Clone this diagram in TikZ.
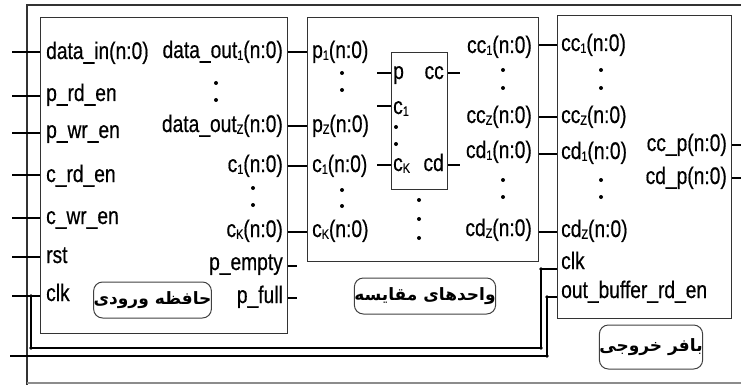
\documentclass[tikz,border=0pt]{standalone}
\usepackage{fontspec}
\setmainfont{Liberation Sans}
\newfontfamily\labfam{Liberation Sans}[FakeStretch=0.8,FakeBold=0.5]
\newfontfamily\arabicfont[Script=Arabic]{DejaVu Sans}
\TeXXeTstate=1
\newcommand\sbx[1]{\raisebox{-1.8pt}{\fontsize{13.5}{14}\selectfont #1}}
\newcommand\labfont{\labfam\fontsize{24}{26}\selectfont}
\tikzset{
  box/.style={draw=black!80, line width=1.3pt, anchor=north west, inner sep=0pt},
  lbl/.style={font=\labfont, inner sep=0pt, text height=17pt, text depth=5pt},
  lw/.style={lbl, anchor=west},
  le/.style={lbl, anchor=east},
  wire/.style={line width=1.2pt, black},
  jdot/.style={circle, fill=black, inner sep=0pt, minimum size=3.6pt},
  vd/.style={circle, fill=black, inner sep=0pt, minimum size=4pt},
  tag/.style={draw=black!75, line width=1pt, rounded corners=9pt, inner sep=0pt,
    font=\arabicfont\bfseries\fontsize{17}{19}\selectfont}
}
\begin{document}
\begin{tikzpicture}[x=1pt,y=-1pt]
\useasboundingbox (0,0) rectangle (741,385);
% frame
\draw[line width=1.5pt, black!80] (27,385) -- (27,5) -- (741,5);
\draw[line width=1.2pt, black!45] (27,383) -- (741,383);
% boxes
\node[box, minimum width=247pt, minimum height=316pt] (inbuf) at (40,17) {};
\node[box, minimum width=231pt, minimum height=244pt] (cmp) at (307,17) {};
\node[box, minimum width=56pt, minimum height=137pt] (core) at (391,52) {};
\node[box, minimum width=174pt, minimum height=303pt] (obuf) at (557,15) {};
% input wires
\foreach \n/\y in {a/52,b/96,c/133,d/175,e/218,f/257,g/296}{
  \coordinate (in\n) at (12,\y);
  \draw[wire] (in\n) -- (inbuf.west |- in\n);
}
% clock bus
\coordinate (ck0) at (31,296);
\coordinate (ck1) at (31,348);
\coordinate (ck2) at (541,348);
\coordinate (ck3) at (541,269);
\draw[wire] (ck0) -- (ck1) -- (ck2) -- (ck3) -- (obuf.west |- ck3);
\foreach \c in {ck0,ck1,ck2,ck3} \node[jdot] (j\c) at (\c) {};
% read enable bus
\coordinate (rd0) at (10,356);
\coordinate (rd1) at (547,356);
\coordinate (rd2) at (547,297);
\draw[wire] (rd0) -- (rd1) -- (rd2) -- (obuf.west |- rd2);
\foreach \c in {rd1,rd2} \node[jdot] (j\c) at (\c) {};
% inbuf -> cmp
\foreach \n/\y in {a/52,b/126,c/166,d/232}{
  \coordinate (row\n) at (0,\y);
  \draw[wire] (inbuf.east |- row\n) -- (cmp.west |- row\n);
}
\coordinate (rowe) at (0,266);
\coordinate (rowf) at (0,298);
\draw[wire] (inbuf.east |- rowe) -- ++(9,0);
\draw[wire] (inbuf.east |- rowf) -- ++(9,0);
% core wires
\foreach \n/\y in {a/73,b/106,c/165}{
  \coordinate (ci\n) at (377,\y);
  \draw[wire] (ci\n) -- (core.west |- ci\n);
}
\foreach \n/\y in {a/73,c/165}{
  \coordinate (co\n) at (460,\y);
  \draw[wire] (core.east |- co\n) -- (co\n);
}
% cmp -> obuf
\foreach \n/\y in {a/45,b/117,c/154,d/232}{
  \coordinate (q\n) at (0,\y);
  \draw[wire] (cmp.east |- q\n) -- (obuf.west |- q\n);
}
% outputs
\foreach \n/\y in {a/145,b/178}{
  \coordinate (o\n) at (741,\y);
  \draw[wire] (obuf.east |- o\n) -- (o\n);
}
% input buffer labels
\node[lw] (l1) at (46,53) {data\_in(n:0)};
\node[lw] (l2) at (46,95) {p\_rd\_en};
\node[lw] (l3) at (46,132) {p\_wr\_en};
\node[lw] (l4) at (46,176) {c\_rd\_en};
\node[lw] (l5) at (46,218) {c\_wr\_en};
\node[lw] (l6) at (46,257) {rst};
\node[lw] (l7) at (46,295) {clk};
\node[le] (r1) at (283,52) {data\_out\sbx{1}(n:0)};
\node[le] (r2) at (283,126) {data\_out\sbx{Z}(n:0)};
\node[le] (r3) at (283,166) {c\sbx{1}(n:0)};
\node[le] (r4) at (283,231) {c\sbx{K}(n:0)};
\node[le] (r5) at (283,264) {p\_empty};
\node[le] (r6) at (283,297) {p\_full};
% compare labels
\node[lw] (m1) at (312,52) {p\sbx{1}(n:0)};
\node[lw] (m2) at (312,126) {p\sbx{Z}(n:0)};
\node[lw] (m3) at (312,166) {c\sbx{1}(n:0)};
\node[lw] (m4) at (312,231) {c\sbx{K}(n:0)};
\node[le] (n1) at (532,47) {cc\sbx{1}(n:0)};
\node[le] (n2) at (532,117) {cc\sbx{Z}(n:0)};
\node[le] (n3) at (532,152) {cd\sbx{1}(n:0)};
\node[le] (n4) at (532,230) {cd\sbx{Z}(n:0)};
% core labels
\node[lw] (k1) at (393,73) {p};
\node[le] (k2) at (444,73) {cc};
\node[lw] (k3) at (393,108) {c\sbx{1}};
\node[lw] (k4) at (393,165) {c\sbx{K}};
\node[le] (k5) at (444,165) {cd};
% output buffer labels
\node[lw] (b1) at (561,45) {cc\sbx{1}(n:0)};
\node[lw] (b2) at (561,117) {cc\sbx{Z}(n:0)};
\node[lw] (b3) at (561,153) {cd\sbx{1}(n:0)};
\node[lw] (b4) at (561,231) {cd\sbx{Z}(n:0)};
\node[lw] (b5) at (561,263) {clk};
\node[lw] (b6) at (561,292) {out\_buffer\_rd\_en};
\node[le] (b7) at (727,145) {cc\_p(n:0)};
\node[le] (b8) at (727,178) {cd\_p(n:0)};
% ellipsis dots
\foreach \x/\y [count=\i] in {216/83,216/100,253/188,253/205,342/73,342/90,342/190,342/206,
  419/200,419/219,419/238,503/70,503/88,503/180,503/197,396/127,396/144,
  601/70,601/88,601/180,601/197}
  \node[vd] (v\i) at (\x,\y) {};
% tags
\node[tag, minimum width=93pt, minimum height=36pt] (tin) at (152.5,300) {\beginR حافظه ورودی\endR};
\node[tag, minimum width=116pt, minimum height=36pt] (tcmp) at (425,296) {\beginR واحدهای مقایسه\endR};
\node[tag, minimum width=84pt, minimum height=44pt] (tout) at (651,347) {\beginR بافر خروجی\endR};
\end{tikzpicture}
\end{document}
